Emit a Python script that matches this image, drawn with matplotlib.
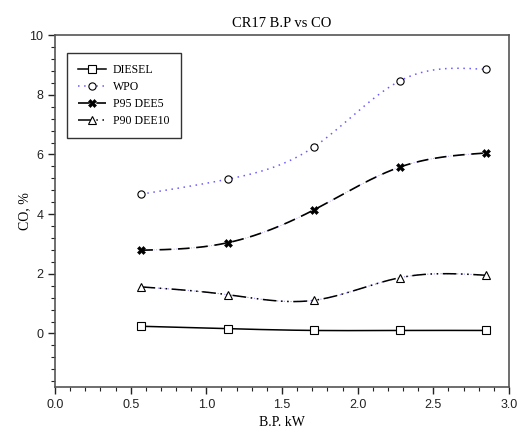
import numpy as np
import matplotlib.pyplot as plt
from matplotlib.ticker import MultipleLocator

# brake power (kW) and CO emission (%) for each fuel
bp = [0.57, 1.14, 1.71, 2.28, 2.85]
co_diesel = [0.24, 0.16, 0.10, 0.10, 0.10]
co_wpo = [4.67, 5.17, 6.25, 8.47, 8.85]
co_p95_dee5 = [2.79, 3.04, 4.14, 5.58, 6.05]
co_p90_dee10 = [1.56, 1.30, 1.11, 1.87, 1.95]


def smooth(x, y, n=200):
    # natural cubic spline through the measured points
    x = np.asarray(x, float)
    y = np.asarray(y, float)
    k = len(x)
    h = np.diff(x)
    A = np.zeros((k, k))
    r = np.zeros(k)
    A[0, 0] = A[-1, -1] = 1
    for i in range(1, k - 1):
        A[i, i - 1] = h[i - 1]
        A[i, i] = 2 * (h[i - 1] + h[i])
        A[i, i + 1] = h[i]
        r[i] = 6 * ((y[i + 1] - y[i]) / h[i] - (y[i] - y[i - 1]) / h[i - 1])
    m = np.linalg.solve(A, r)
    xs = np.linspace(x[0], x[-1], n)
    idx = np.clip(np.searchsorted(x, xs) - 1, 0, k - 2)
    x0, x1 = x[idx], x[idx + 1]
    hh = x1 - x0
    a = (x1 - xs) / hh
    b = (xs - x0) / hh
    ys = (a * y[idx] + b * y[idx + 1]
          + ((a ** 3 - a) * m[idx] + (b ** 3 - b) * m[idx + 1]) * hh ** 2 / 6)
    return xs, ys


plt.rcParams['font.family'] = 'Liberation Sans'
serif = 'Liberation Serif'

fig = plt.figure(figsize=(5.22, 4.34), dpi=100)
ax = fig.add_axes([0.1054, 0.108, 0.8697, 0.811])

ms = 5.2
mk = dict(ms=ms, mfc='white', mec='black', mew=0.8)
# DIESEL
xs, ys = smooth(bp, co_diesel)
ax.plot(xs, ys, color='black', lw=1.1)
ax.plot(bp, co_diesel, ls='none', marker='s', **mk)
h1, = ax.plot([], [], color='black', lw=1.1, marker='s', **mk)

# WPO
xs, ys = smooth(bp, co_wpo)
ax.plot(xs, ys, color='#6a5cff', lw=1.1, ls=(0, (1, 3)))
ax.plot(bp, co_wpo, ls='none', marker='o', **mk)
h2, = ax.plot([], [], color='#6a5cff', lw=1.1, ls=(0, (1, 3)), marker='o', **mk)

# P95 DEE5
xs, ys = smooth(bp, co_p95_dee5)
ax.plot(xs, ys, color='#9a90ff', lw=0.6, ls=(0, (1, 2)))
ax.plot(xs, ys, color='black', lw=1.2, ls=(0, (7, 4)))
ax.plot(bp, co_p95_dee5, ls='none', marker='X', ms=6.2, mfc='black', mec='black', mew=0.4)
h3, = ax.plot([], [], color='black', lw=1.2, ls=(0, (7, 4)), marker='X', ms=6.2, mfc='black', mec='black', mew=0.4)

# P90 DEE10
xs, ys = smooth(bp, co_p90_dee10)
ax.plot(xs, ys, color='#9a90ff', lw=0.8, ls=(0, (1, 2)))
ax.plot(xs, ys, color='black', lw=1.1, ls=(0, (9, 3, 1, 3, 1, 3)))
ax.plot(bp, co_p90_dee10, ls='none', marker='^', ms=ms + 0.6, mfc='white', mec='black', mew=0.8)
h4, = ax.plot([], [], color='black', lw=1.1, ls=(0, (9, 3, 1, 3, 1, 3)), marker='^', ms=ms + 0.6, mfc='white', mec='black', mew=0.8)

ax.set_xlim(0, 3.0)
ax.set_ylim(-1.8, 10)
ax.xaxis.set_major_locator(MultipleLocator(0.5))
ax.xaxis.set_minor_locator(MultipleLocator(0.1))
ax.yaxis.set_major_locator(MultipleLocator(2))
ax.yaxis.set_minor_locator(MultipleLocator(0.4))
ax.set_xticklabels([], minor=True)
ax.xaxis.set_major_formatter(plt.FormatStrFormatter('%.1f'))
ax.tick_params(which='both', direction='out', top=False, right=False, labelsize=9, colors='#222222')
ax.tick_params(which='major', length=5, width=1)
ax.tick_params(which='minor', length=3, width=0.8)
for s in ax.spines.values():
    s.set_color('#555555')
    s.set_linewidth(1.2)

ax.set_title('CR17 B.P vs CO', family=serif, fontsize=10.5, pad=6)
ax.set_xlabel('B.P. kW', family=serif, fontsize=10, labelpad=4)
ax.set_ylabel('CO, %', family=serif, fontsize=10)
ax.yaxis.set_label_coords(-0.052, 0.5)

leg = ax.legend([h1, h2, h3, h4], ['DIESEL', 'WPO', 'P95 DEE5', 'P90 DEE10'],
                loc='upper left', bbox_to_anchor=(0.026, 0.95), fancybox=False,
                edgecolor='#333333', framealpha=1, prop={'family': serif, 'size': 8.5},
                handlelength=2.4, handletextpad=0.55, labelspacing=0.42, borderpad=0.95,
                borderaxespad=0)
leg.get_frame().set_linewidth(1.0)

fig.savefig('out.png', dpi=100)
